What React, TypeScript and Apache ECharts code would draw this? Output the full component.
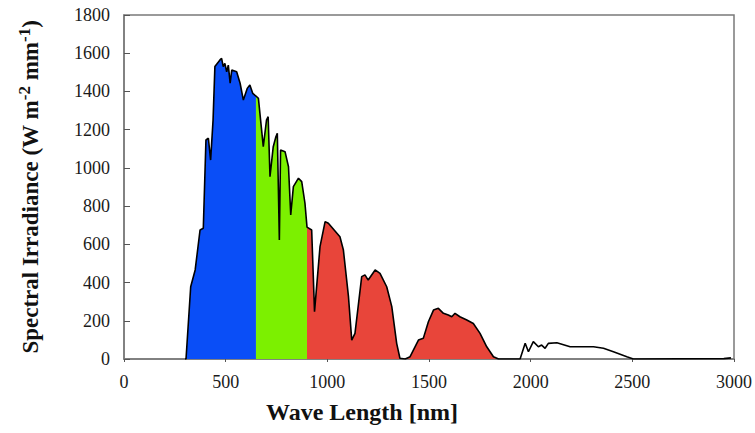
import React, { useEffect, useRef } from "react";
import * as echarts from "echarts";

const wavelengths = [
  300, 305, 328, 350, 374, 390, 403, 415, 426, 438, 447, 472, 480, 488, 496, 505, 513, 522, 530, 554, 571, 587, 606, 619, 633, 649,
  661, 685, 701, 709, 718, 734, 747, 754, 764, 770, 792, 809, 820, 833, 858, 874, 890, 900,
  923, 937, 964, 989, 1005, 1062, 1079, 1104, 1120, 1136, 1169, 1185, 1201, 1235, 1259, 1292, 1317, 1341, 1357, 1383, 1407,
  1448, 1472, 1497, 1522, 1546, 1571, 1595, 1612, 1628, 1652, 1686, 1718, 1751, 1784, 1817, 1842,
  1948, 1973, 1989, 2013, 2038, 2054, 2071, 2087, 2129, 2194, 2309, 2358, 2407, 2473, 2505, 2950, 2985,
];
const irradiance = [
  0, 0, 378, 466, 675, 684, 1146, 1155, 1041, 1250, 1530, 1565, 1573, 1530, 1547, 1503, 1538, 1443, 1512, 1503, 1443, 1355, 1416, 1434, 1390, 1376,
  1364, 1111, 1251, 1268, 954, 1111, 1163, 1181, 623, 1094, 1085, 1006, 754, 902, 946, 928, 815, 690,
  675, 248, 588, 719, 710, 640, 570, 326, 99, 134, 431, 440, 413, 466, 448, 378, 274, 82, 4, 0, 12,
  99, 108, 195, 256, 265, 239, 230, 221, 239, 221, 204, 186, 134, 64, 12, 0,
  0, 82, 38, 91, 64, 73, 56, 82, 85, 64, 64, 56, 38, 12, 0, 2, 6,
];
const bandNames = ["Blue", "Green", "Red"];
const bandStarts = [0, 649, 900];
const bandEnds = [649, 900, 1842];
const bandColors = ["#0a4ef7", "#7cf000", "#e8453a"];
const xTicks = [0, 500, 1000, 1500, 2000, 2500, 3000];
const yTicks = [0, 200, 400, 600, 800, 1000, 1200, 1400, 1600, 1800];

const serif = "'Liberation Serif', 'DejaVu Serif', serif";

export default function App() {
  const ref = useRef<HTMLDivElement>(null);
  useEffect(() => {
    if (!ref.current) return;
    const chart = echarts.init(ref.current, null, { renderer: "svg" });
    const points = wavelengths.map((w, i) => [w, irradiance[i]]);
    const bandSeries = bandNames.map((name, b) => ({
      name,
      type: "line",
      data: points.filter((p) => p[0] >= bandStarts[b] && p[0] <= bandEnds[b]),
      showSymbol: false,
      lineStyle: { width: 0, opacity: 0 },
      areaStyle: { color: bandColors[b], opacity: 1 },
      z: 2,
    }));
    chart.setOption({
      animation: false,
      grid: {
        left: 124,
        right: 21,
        top: 15,
        bottom: 74,
        show: true,
        borderColor: "#7a7a7a",
        borderWidth: 1.5,
      },
      xAxis: {
        type: "value",
        min: xTicks[0],
        max: xTicks[xTicks.length - 1],
        interval: 500,
        axisLine: { lineStyle: { color: "#7a7a7a", width: 1.5 } },
        axisTick: { show: true, length: 3, lineStyle: { color: "#555" } },
        splitLine: { show: false },
        axisLabel: {
          fontFamily: serif,
          fontSize: 18,
          color: "#1a1a1a",
          margin: 14,
          formatter: (v: number) => String(v),
        },
      },
      yAxis: {
        type: "value",
        min: yTicks[0],
        max: yTicks[yTicks.length - 1],
        interval: 200,
        axisLine: { show: true, lineStyle: { color: "#7a7a7a", width: 1.5 } },
        axisTick: { show: true, inside: true, length: 6, lineStyle: { color: "#555" } },
        splitLine: { show: false },
        axisLabel: {
          fontFamily: serif,
          fontSize: 18,
          color: "#1a1a1a",
          margin: 14,
          formatter: (v: number) => String(v),
        },
        name: "{a|Spectral Irradiance (W m}{s|-2}{a| mm}{s|-1}{a|)}",
        nameLocation: "middle",
        nameRotate: 90,
        nameGap: 80,
        nameTextStyle: {
          rich: {
            a: { fontFamily: serif, fontSize: 23, fontWeight: "bold", color: "#111", lineHeight: 28 },
            s: { fontFamily: serif, fontSize: 17, fontWeight: "bold", color: "#111", verticalAlign: "top", lineHeight: 28 },
          },
        },
      },
      graphic: [
        {
          type: "text",
          left: 266,
          top: 400,
          style: {
            text: "Wave Length [nm]",
            font: `bold 24px ${serif}`,
            fill: "#111",
          },
        },
      ],
      series: [
        ...bandSeries,
        {
          name: "Spectrum",
          type: "line",
          data: points,
          showSymbol: false,
          lineStyle: { color: "#000", width: 1.6 },
          z: 3,
        },
      ],
    });
    return () => chart.dispose();
  }, []);
  return <div ref={ref} style={{ width: 755, height: 433, position: "absolute", left: 0, top: 0 }} />;
}
